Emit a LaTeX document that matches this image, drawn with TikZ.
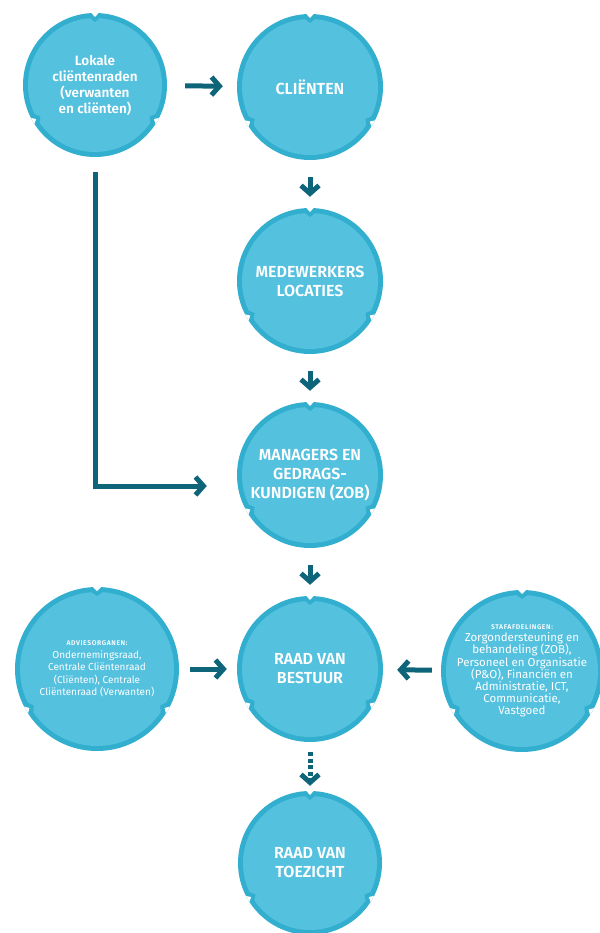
\documentclass[tikz,border=0pt]{standalone}
\usepackage{fontspec}
\setmainfont{Fira Sans}[BoldFont={Fira Sans SemiBold}]
\usepackage{tikz}
\usetikzlibrary{arrows.meta, calc}
\definecolor{orgFill}{RGB}{84,193,223}
\definecolor{orgRing}{RGB}{50,174,207}
\definecolor{arrowTeal}{RGB}{14,101,121}
\newcommand{\headfont}{\fontsize{6.8}{9}\selectfont\bfseries\addfontfeatures{LetterSpace=9}}

\begin{document}
\begin{tikzpicture}[x=1pt, y=-1pt,
		org_node/.style  = {circle, inner sep=0pt, minimum size=2*#1pt, fill=orgRing,
			text=white, align=center,
			path picture={
				\fill[orgFill] (path picture bounding box.center) circle[radius=#1pt-5pt];
				\foreach \ang in {90,210,330} {
					\fill[orgRing] ($(path picture bounding box.center)+(\ang-5:#1pt-4pt)$)
					-- ($(path picture bounding box.center)+(\ang:#1pt-9pt)$)
					-- ($(path picture bounding box.center)+(\ang+5:#1pt-4pt)$) -- cycle;
					\fill[white] ($(path picture bounding box.center)+(\ang-4:#1pt+2pt)$)
					-- ($(path picture bounding box.center)+(\ang:#1pt-4pt)$)
					-- ($(path picture bounding box.center)+(\ang+4:#1pt+2pt)$) -- cycle;
				}
			}},
		main_text/.style = {font=\fontsize{16}{19}\selectfont\bfseries},
		side_text/.style = {font=\fontsize{10}{12.6}\selectfont},
		line/.style      = {draw=arrowTeal, line width=5pt,
			-{Straight Barb[sharp, length=8pt, width=18pt]}},
		hline/.style     = {line, shorten <=18pt, shorten >=14pt},
		vline/.style     = {line, shorten <=17pt, shorten >=11pt}
		]
		\useasboundingbox (0,0) rectangle (599,933);
		
		\node[org_node=72, font=\fontsize{13.5}{16}\selectfont\bfseries] (lokale) at (95,85)
		{Lokale\\cliëntenraden\\(verwanten\\en cliënten)};
		\node[org_node=73, main_text] (clienten) at (310,87) {CLIËNTEN};
		\node[org_node=73, main_text] (medewerkers) at (310,281) {MEDEWERKERS\\LOCATIES};
		\node[org_node=73, main_text] (managers) at (310,475) {MANAGERS EN\\GEDRAGS-\\KUNDIGEN (ZOB)};
		\node[org_node=73, main_text] (bestuur) at (310,669) {RAAD VAN\\BESTUUR};
		\node[org_node=72, main_text] (toezicht) at (310,863) {RAAD VAN\\TOEZICHT};
		
		\node[org_node=82, side_text] (advies) at (97,669)
		{{\headfont ADVIESORGANEN:}\\Ondernemingsraad,\\Centrale Cliëntenraad\\(Cliënten), Centrale\\Cliëntenraad (Verwanten)};
		\node[org_node=81, side_text, font=\fontsize{11.5}{12.2}\selectfont] (staf) at (522,671)
		{{\headfont STAFAFDELINGEN:}\\Zorgondersteuning en\\behandeling (ZOB),\\Personeel en Organisatie\\(P\&O), Financiën en\\Administratie, ICT,\\Communicatie,\\Vastgoed};
		
		\draw[hline] (lokale) -- (clienten);
		\draw[vline] (clienten) -- (medewerkers);
		\draw[vline] (medewerkers) -- (managers);
		\draw[vline] (managers) -- (bestuur);
		\draw[line, shorten <=15pt, shorten >=30pt] (lokale.south) |- ([yshift=-11pt]managers.west);
		\draw[line, shorten <=11pt, shorten >=10pt] (advies) -- (bestuur);
		\draw[line, shorten <=9pt, shorten >=14pt] (staf) -- (bestuur);
		\draw[line, dash pattern=on 4pt off 2.5pt, shorten <=10pt, shorten >=5pt] (bestuur) -- (toezicht);
	\end{tikzpicture}
\end{document}
